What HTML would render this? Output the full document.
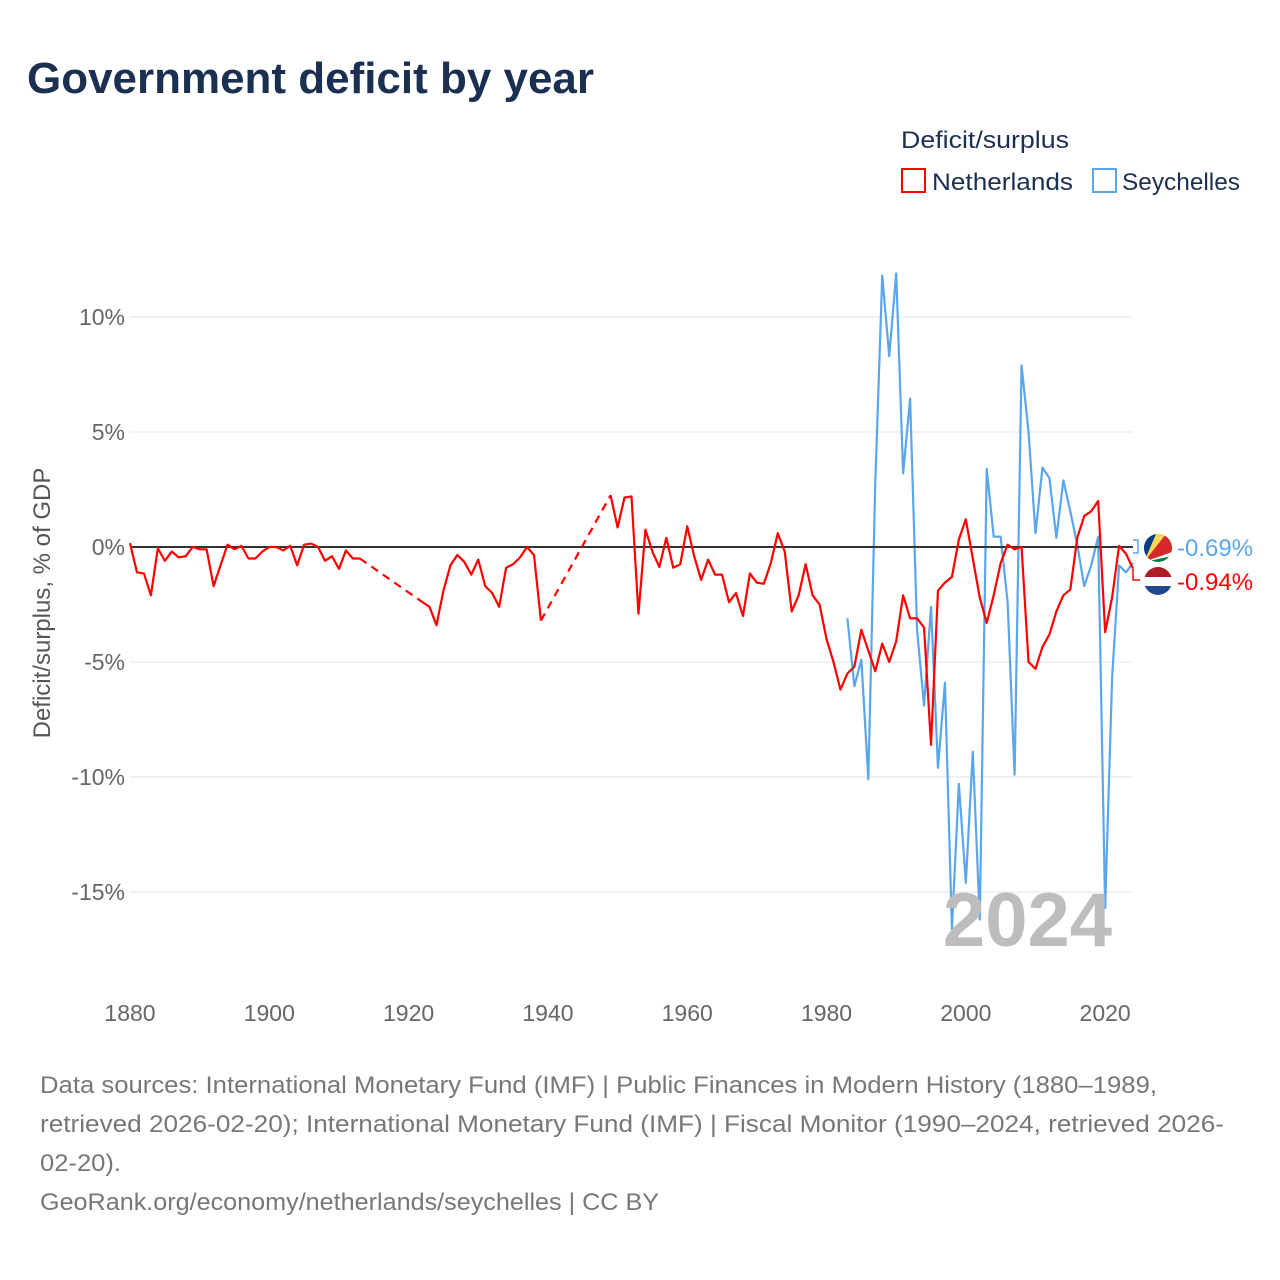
<!DOCTYPE html>
<html><head><meta charset="utf-8"><style>
body{margin:0;background:#fff}
svg{display:block;font-family:"Liberation Sans",sans-serif}
</style></head><body>
<svg id="chart" width="1280" height="1280" viewBox="0 0 1280 1280">
<text x="27" y="93" font-size="44" font-weight="bold" fill="#1b3050" textLength="567" lengthAdjust="spacingAndGlyphs">Government deficit by year</text>
<g>
<text x="901" y="148" font-size="24" fill="#1b3050" textLength="168" lengthAdjust="spacingAndGlyphs">Deficit/surplus</text>
<g><rect x="902" y="169" width="23" height="23" fill="none" stroke="#ff0000" stroke-width="2"/><text x="932" y="190" font-size="24" fill="#1b3050" textLength="141" lengthAdjust="spacingAndGlyphs">Netherlands</text></g>
<g><rect x="1093" y="169" width="23" height="23" fill="none" stroke="#5aa6ec" stroke-width="2"/><text x="1122" y="190" font-size="24" fill="#1b3050" textLength="118" lengthAdjust="spacingAndGlyphs">Seychelles</text></g>
</g>
<g id="grid"></g><g id="axes"></g><g id="series"></g>
<text x="1112" y="946" font-size="76" font-weight="bold" fill="#bdbdbd" text-anchor="end">2024</text>
<text transform="translate(50,603) rotate(-90)" font-size="24" fill="#555" text-anchor="middle">Deficit/surplus, % of GDP</text>
<g>
<path d="M1133 540 H1138 V553 H1133" fill="none" stroke="#5aa6ec" stroke-width="1.5"/>
<path d="M1133 569 V580 H1140" fill="none" stroke="#ff0000" stroke-width="1.5"/>
<defs><clipPath id="c1"><circle cx="1158" cy="548" r="14"/></clipPath><clipPath id="c2"><circle cx="1158" cy="581" r="14"/></clipPath></defs>
<g clip-path="url(#c1)">
<rect x="1144" y="534" width="28" height="28" fill="#007a3d"/>
<polygon points="1144,562 1144,534 1172,534 1172,562" fill="#fff"/>
<polygon points="1144,562 1172,556 1172,562" fill="#007a3d"/>
<polygon points="1144,562 1144,534 1172,534 1172,552" fill="#d62828"/>
<polygon points="1144,562 1144,534 1166,534" fill="#fcd856"/>
<polygon points="1144,562 1144,534 1156,534" fill="#003f87"/>
</g>
<g clip-path="url(#c2)">
<rect x="1144" y="567" width="28" height="10" fill="#ae1c28"/>
<rect x="1144" y="577" width="28" height="9" fill="#fff"/>
<rect x="1144" y="586" width="28" height="10" fill="#21468b"/>
</g>
<text x="1177" y="556" font-size="24" fill="#5aa6ec">-0.69%</text>
<text x="1177" y="590" font-size="24" fill="#ff0000">-0.94%</text>
</g>
<g font-size="24" fill="#777">
<text x="40" y="1093" textLength="1117" lengthAdjust="spacingAndGlyphs">Data sources: International Monetary Fund (IMF) | Public Finances in Modern History (1880–1989,</text>
<text x="40" y="1132" textLength="1184" lengthAdjust="spacingAndGlyphs">retrieved 2026-02-20); International Monetary Fund (IMF) | Fiscal Monitor (1990–2024, retrieved 2026-</text>
<text x="40" y="1171" textLength="81" lengthAdjust="spacingAndGlyphs">02-20).</text>
<text x="40" y="1210" textLength="619" lengthAdjust="spacingAndGlyphs">GeoRank.org/economy/netherlands/seychelles | CC BY</text>
</g>
</svg>
<script>
const yTicks=[10,5,0,-5,-10,-15];
const yTickLabels=["10%","5%","0%","-5%","-10%","-15%"];
const xTicks=[1880,1900,1920,1940,1960,1980,2000,2020];
const nlStart=1880;
const nlValues=[0.17,-1.1,-1.15,-2.1,-0.05,-0.6,-0.2,-0.45,-0.4,0,-0.1,-0.1,-1.7,-0.8,0.1,-0.1,0.05,-0.5,-0.5,-0.2,
0,0,-0.15,0.05,-0.8,0.1,0.15,0,-0.6,-0.4,-0.95,-0.15,-0.5,-0.5,null,null,null,null,null,null,
null,null,-2.4,-2.6,-3.4,-1.9,-0.8,-0.35,-0.65,-1.2,-0.55,-1.7,-2.0,-2.6,-0.9,-0.75,-0.45,0,-0.35,-3.2,
null,null,null,null,null,null,null,null,null,2.25,0.85,2.15,2.2,-2.9,0.75,-0.2,-0.87,0.4,-0.9,-0.75,
0.9,-0.4,-1.43,-0.55,-1.2,-1.2,-2.4,-2.0,-3.0,-1.15,-1.55,-1.6,-0.7,0.6,-0.2,-2.8,-2.1,-0.75,-2.1,-2.5,
-4.0,-5.0,-6.2,-5.5,-5.2,-3.6,-4.5,-5.4,-4.2,-5.0,-4.1,-2.1,-3.1,-3.1,-3.5,-8.6,-1.9,-1.55,-1.3,0.33,
1.2,-0.5,-2.2,-3.3,-2.1,-0.7,0.1,-0.1,0,-5.0,-5.3,-4.35,-3.8,-2.8,-2.1,-1.85,0.4,1.35,1.55,2.0,
-3.7,-2.2,0.05,-0.3,-0.94];
const syStart=1983;
const syValues=[-3.1,-6.05,-4.9,-10.1,2.8,11.8,8.3,11.9,3.2,6.45,-3.6,-6.9,-2.6,-9.6,-5.9,-16.6,-10.3,
-14.6,-8.9,-16.2,3.4,0.45,0.45,-2.4,-9.9,7.9,5.0,0.6,3.45,3.0,0.4,2.9,1.55,0.1,-1.7,-0.8,0.45,
-15.7,-5.7,-0.8,-1.1,-0.69];
const NS='http://www.w3.org/2000/svg';
const xS=y=>130+(y-1880)*(1003/144);
const yS=v=>547-v*23;
function mk(tag,attrs,parent){const e=document.createElementNS(NS,tag);for(const k in attrs)e.setAttribute(k,attrs[k]);parent.appendChild(e);return e;}
const grid=document.getElementById('grid'),axes=document.getElementById('axes'),series=document.getElementById('series');
yTicks.forEach((t,i)=>{
 if(t!==0){const l=mk('line',{x1:130,x2:1133,y1:yS(t),y2:yS(t),stroke:'#e6e6e6','stroke-width':1},grid);
 
 }
 const tx=mk('text',{x:125,y:yS(t)+8,'font-size':23,fill:'#666','text-anchor':'end'},axes);
 tx.textContent=yTickLabels[i];
 
 
});
xTicks.forEach(t=>{
 const tx=mk('text',{x:xS(t),y:1021,'font-size':23,fill:'#666','text-anchor':'middle'},axes);
 tx.textContent=String(t);
 
 
});
function draw(start,vals,color,name){
 const g=mk('g',{},series);
 
 
 let solid='',dash='',prev=null;
 vals.forEach((v,i)=>{
  if(v===null)return;
  const p=[xS(start+i),yS(v)];
  if(prev){
   if(prev.i===i-1){solid+=(solid&&solid.endsWith(prev.s)?'':'M'+prev.s)+' L'+p.join(',');}
   else{dash+='M'+prev.s+' L'+p.join(',');}
  }
  if(!prev&&vals.length===1){}
  prev={i:i,s:p.join(',')};
 });
 mk('path',{d:solid,fill:'none',stroke:color,'stroke-width':2.2,'stroke-linejoin':'round'},g);
 if(dash)mk('path',{d:dash,fill:'none',stroke:color,'stroke-width':2.2,'stroke-dasharray':'8,6'},g);
}
draw(syStart,syValues,'#5aa6ec','seychelles-line');
const z=mk('line',{x1:130,x2:1133,y1:yS(0),y2:yS(0),stroke:'#333','stroke-width':2},series);


draw(nlStart,nlValues,'#ff0000','netherlands-line');
</script>
</body></html>
